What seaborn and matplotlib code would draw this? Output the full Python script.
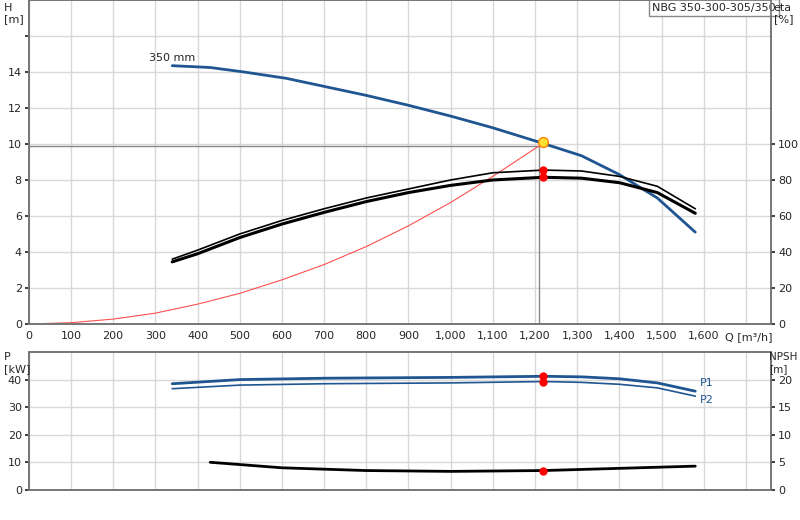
import numpy as np
import matplotlib
matplotlib.use("Agg")
import matplotlib.pyplot as plt
import seaborn as sns

sns.set_theme(style="white")
plt.rcParams["font.family"] = ["DejaVu Sans"]
plt.rcParams["font.size"] = 8

# ── data ──────────────────────────────────────────────────────────────────────
q_h   = [340, 430, 510, 610, 700, 800, 900, 1000, 1100, 1210, 1310, 1400, 1490, 1580]
h_val = [14.35, 14.25, 14.0, 13.65, 13.2, 12.7, 12.15, 11.55, 10.9, 10.1, 9.35, 8.3, 7.0, 5.1]

q_eta    = [340, 400, 500, 600, 700, 800, 900, 1000, 1100, 1220, 1310, 1400, 1490, 1580]
eta_thin = [36, 41, 50, 57.5, 64, 70, 75, 80, 84, 85.5, 85, 82, 76.5, 64]
eta_bold = [34.5, 39, 48, 55.5, 62, 68, 73, 77, 80, 81.5, 81, 78.5, 73, 61.5]

q_sys = [0, 100, 200, 300, 400, 500, 600, 700, 800, 900, 1000, 1100, 1210]
h_sys = [0, 0.07, 0.27, 0.6, 1.1, 1.7, 2.45, 3.3, 4.3, 5.45, 6.75, 8.2, 9.9]

q_p = [340, 500, 700, 1000, 1220, 1310, 1400, 1490, 1580]
p1  = [38.5, 40, 40.5, 40.8, 41.2, 41, 40.3, 38.8, 35.8]
p2  = [36.7, 38, 38.5, 38.8, 39.3, 39, 38.3, 37, 34]

q_npsh = [430, 600, 800, 1000, 1220, 1400, 1580]
npsh   = [5.0, 4.0, 3.5, 3.35, 3.5, 3.9, 4.3]

duty_q, duty_h = 1220, 10.1
op_q, op_h = 1210, 9.9

blue = "#1f5591"
xt = np.arange(0, 1701, 100)
xt_lab = ["0"] + [f"{v:,}" for v in xt[1:-1]] + [""]

fig = plt.figure(figsize=(8, 5.2), dpi=100)
ax = fig.add_axes([0.036, 0.377, 0.928, 0.623])
ax_r = ax.twinx()
axb = fig.add_axes([0.036, 0.058, 0.928, 0.265])
axb_r = axb.twinx()

for a in (ax, axb, ax_r, axb_r):
    for s in a.spines.values():
        s.set_color("#777777")
for a in (ax, axb):
    a.set_xlim(0, 1760)
    a.set_xticks(xt)
    a.grid(True, color="#d8d8d8", lw=1)
    a.set_axisbelow(True)
    a.tick_params(length=3, pad=2, labelsize=8)

# ── top: H and eta ────────────────────────────────────────────────────────────
ax.set_ylim(0, 18)
ax.set_yticks(range(0, 17, 2))
ax.set_yticklabels([str(v) for v in range(0, 15, 2)] + [""])
ax.set_xticklabels(xt_lab)
ax.plot([0, op_q], [op_h, op_h], color="#888888", lw=1)
ax.plot([op_q, op_q], [0, op_h], color="#888888", lw=1)
sns.lineplot(x=q_sys, y=h_sys, ax=ax, color="#ff5050", lw=0.8)
sns.lineplot(x=q_h, y=h_val, ax=ax, color=blue, lw=2)
ax.scatter([duty_q], [duty_h], s=50, color="#ffe030", edgecolor="#ff8000", zorder=5)
ax.text(340, 14.5, "350 mm", fontsize=8, ha="center", va="bottom")

ax_r.set_ylim(0, 180)
ax_r.set_yticks(range(0, 101, 20))
ax_r.tick_params(length=3, pad=2, labelsize=8)
sns.lineplot(x=q_eta, y=eta_thin, ax=ax_r, color="black", lw=1.2)
sns.lineplot(x=q_eta, y=eta_bold, ax=ax_r, color="black", lw=2.2)
ax_r.scatter([1220, 1220], [eta_thin[9], eta_bold[9]], s=25, color="red", zorder=5)
ax_r.set_ylabel("")

fig.text(0.005, 0.995, "H\n[m]", fontsize=8, va="top")
fig.text(0.967, 0.995, "eta\n[%]", fontsize=8, va="top")
ax.text(1478, 17.85, "NBG 350-300-305/350", fontsize=8, va="top",
        bbox=dict(facecolor="white", edgecolor="#888888", boxstyle="square,pad=0.3"))
ax.text(1650, -0.45, "Q [m³/h]", fontsize=8, va="top")

# ── bottom: P and NPSH ────────────────────────────────────────────────────────
axb.set_ylim(0, 50)
axb.set_yticks(range(0, 41, 10))
axb.set_xticklabels([])
sns.lineplot(x=q_p, y=p1, ax=axb, color=blue, lw=2)
sns.lineplot(x=q_p, y=p2, ax=axb, color=blue, lw=1.2)
axb.scatter([1220, 1220], [p1[4], p2[4]], s=25, color="red", zorder=5)
axb.text(1590, 37.5, "P1", color=blue, fontsize=8)
axb.text(1590, 31.5, "P2", color=blue, fontsize=8)

axb_r.set_ylim(0, 25)
axb_r.set_yticks(range(0, 21, 5))
axb_r.tick_params(length=3, pad=2, labelsize=8)
sns.lineplot(x=q_npsh, y=npsh, ax=axb_r, color="black", lw=2)
axb_r.scatter([1220], [npsh[4]], s=25, color="red", zorder=5)
axb_r.set_ylabel("")

fig.text(0.005, 0.323, "P\n[kW]", fontsize=8, va="top")
fig.text(0.961, 0.323, "NPSH\n[m]", fontsize=7.5, va="top")

for a in (ax, ax_r, axb, axb_r):
    a.set_xlabel("")
    if a in (ax, axb):
        a.set_ylabel("")

fig.savefig("out.png", dpi=100)
